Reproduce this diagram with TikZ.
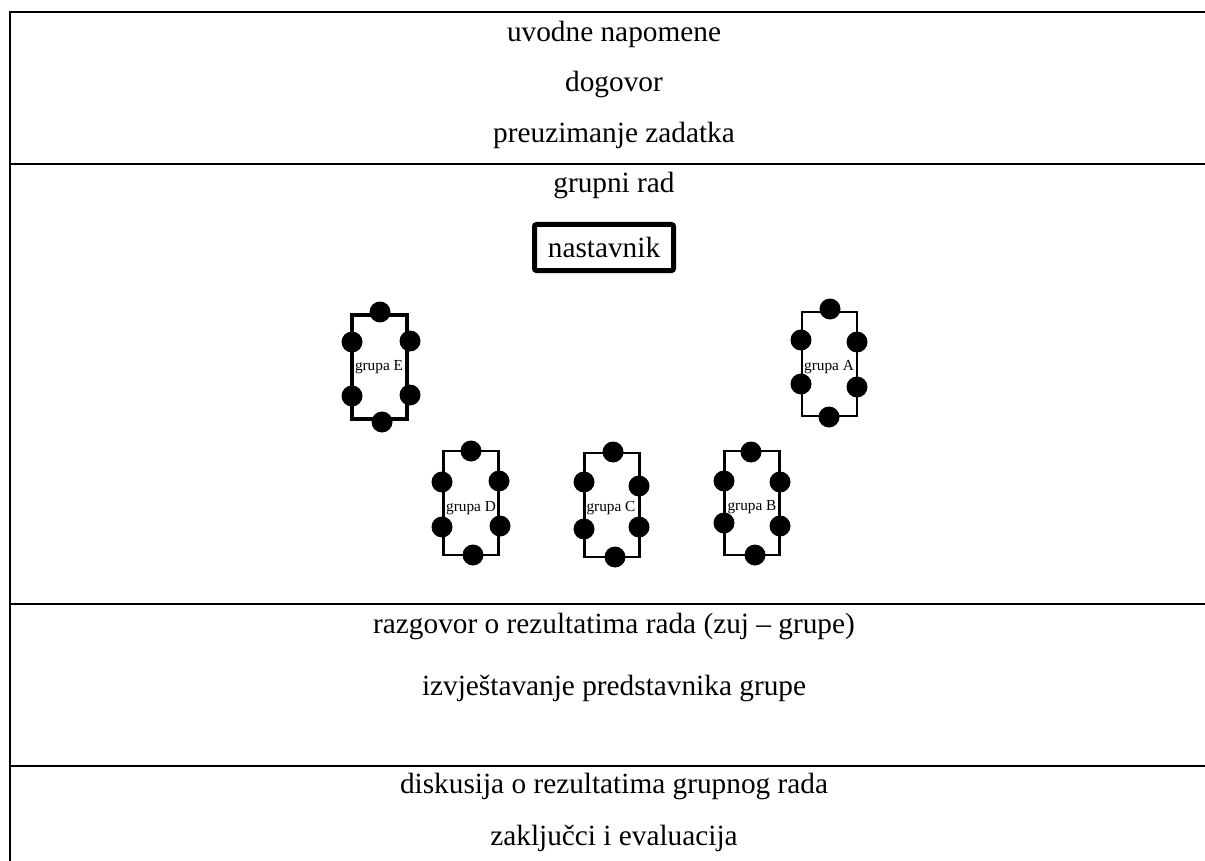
\documentclass[tikz,border=0pt]{standalone}
\usepackage{fontspec}
\setmainfont{Liberation Serif}
\begin{document}
\begin{tikzpicture}[x=1pt,y=-1pt,
  rule/.style={line width=2.3pt},
  txt/.style={font=\fontsize{29.3}{35}\selectfont, inner sep=0pt, anchor=base},
  small/.style={font=\fontsize{15.3}{18}\selectfont, inner sep=0pt},
  grpbox/.style={draw, line width=2.6pt, inner sep=0pt, minimum width=55pt, minimum height=104pt},
  dot/.style={circle, fill=black, inner sep=0pt, minimum size=21pt},
  teacher/.style={draw, line width=5pt, rounded corners=2pt, inner sep=0pt, minimum width=139pt, minimum height=46pt, font=\fontsize{29.3}{35}\selectfont}]
\useasboundingbox (0,0) rectangle (1205,861);
% table rules
\draw[rule] (1205,12) -- (10,12) -- (10,861);
\draw[rule] (10,164) -- (1205,164);
\draw[rule] (10,604) -- (1205,604);
\draw[rule] (10,766) -- (1205,766);
% texts
\node[txt] (t1) at (614,42) {uvodne napomene};
\node[txt] (t2) at (614,92) {dogovor};
\node[txt] (t3) at (614,143) {preuzimanje zadatka};
\node[txt] (t4) at (614,193) {grupni rad};
\node[txt] (t5) at (614,633) {razgovor o rezultatima rada (zuj – grupe)};
\node[txt] (t6) at (614,695) {izvještavanje predstavnika grupe};
\node[txt] (t7) at (614,793) {diskusija o rezultatima grupnog rada};
\node[txt] (t8) at (614,845) {zaključci i evaluacija};
% teacher
\node[teacher] (nast) at (604,247.5) {nastavnik};
% group E
\node[grpbox, line width=4pt] (gE) at (379.5,366.5) {};
\node[dot] (gE1) at (380,312) {};
\node[dot] (gE2) at (382,422) {};
\node[dot] (gE3) at (352,342) {};
\node[dot] (gE4) at (352,396) {};
\node[dot] (gE5) at (410,341) {};
\node[dot] (gE6) at (410,395) {};
\node[small] (lE) at (379,367) {grupa E};
% group A
\node[grpbox] (gA) at (829.5,364) {};
\node[dot] (gA1) at (830,309) {};
\node[dot] (gA2) at (829,417) {};
\node[dot] (gA3) at (801,340) {};
\node[dot] (gA4) at (801,384) {};
\node[dot] (gA5) at (857,342) {};
\node[dot] (gA6) at (857,387) {};
\node[small] (lA) at (829,367) {grupa A};
% group D
\node[grpbox] (gD) at (471,503) {};
\node[dot] (gD1) at (471,451) {};
\node[dot] (gD2) at (473,555) {};
\node[dot] (gD3) at (442,482) {};
\node[dot] (gD4) at (442,527) {};
\node[dot] (gD5) at (499,481) {};
\node[dot] (gD6) at (500,526) {};
\node[small] (lD) at (471,508) {grupa D};
% group C
\node[grpbox] (gC) at (612,505) {};
\node[dot] (gC1) at (613,452) {};
\node[dot] (gC2) at (615,557) {};
\node[dot] (gC3) at (584,482) {};
\node[dot] (gC4) at (584,529) {};
\node[dot] (gC5) at (639,486) {};
\node[dot] (gC6) at (639,527) {};
\node[small] (lC) at (611,508) {grupa C};
% group B
\node[grpbox] (gB) at (752,503) {};
\node[dot] (gB1) at (751,452) {};
\node[dot] (gB2) at (755,555) {};
\node[dot] (gB3) at (724,481) {};
\node[dot] (gB4) at (724,523) {};
\node[dot] (gB5) at (780,482) {};
\node[dot] (gB6) at (780,526) {};
\node[small] (lB) at (752,507) {grupa B};
\end{tikzpicture}
\end{document}
